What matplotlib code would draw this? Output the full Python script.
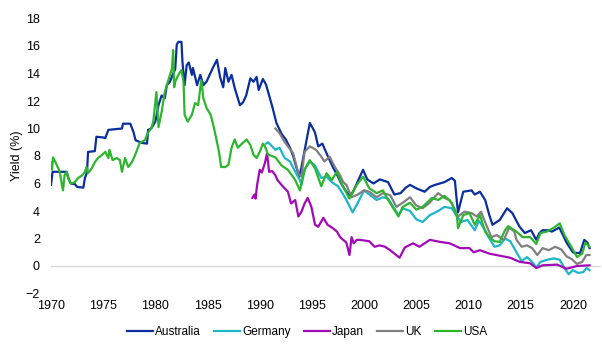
import matplotlib
matplotlib.use("Agg")
import matplotlib.pyplot as plt

# 10-year government bond yields
aus_x = [1970.0, 1970.15, 1971.5, 1971.7, 1971.9, 1972.3, 1972.5, 1973.1, 1973.25, 1973.45,
         1973.55, 1974.2, 1974.35, 1975.0, 1975.2, 1975.5, 1976.8, 1976.9, 1977.6, 1977.9,
         1978.1, 1978.7, 1979.2, 1979.3, 1979.6, 1980.0, 1980.3, 1980.6, 1980.9, 1981.1,
         1981.4, 1981.7, 1981.9, 1982.05, 1982.2, 1982.5, 1982.6, 1982.8, 1983.0, 1983.2,
         1983.5, 1983.6, 1984.0, 1984.3, 1984.6, 1984.9, 1985.2, 1985.5, 1985.9, 1986.2,
         1986.5, 1986.7, 1987.0, 1987.3, 1987.6, 1988.1, 1988.4, 1988.7, 1989.1, 1989.4,
         1989.7, 1989.9, 1990.3, 1990.6, 1991.2, 1991.6, 1992.1, 1992.5, 1992.9, 1993.2,
         1993.5, 1993.8, 1994.0, 1994.4, 1994.8, 1995.1, 1995.3, 1995.6, 1996.0, 1996.4,
         1996.7, 1997.0, 1997.5, 1997.8, 1998.3, 1998.7, 1999.0, 1999.3, 1999.9, 2000.3,
         2000.9, 2001.5, 2002.3, 2002.9, 2003.5, 2004.0, 2004.4, 2005.0, 2005.8, 2006.3,
         2006.8, 2007.7, 2008.4, 2008.7, 2008.9, 2009.0, 2009.5, 2010.3, 2010.6, 2011.1,
         2011.6, 2012.0, 2012.3, 2013.0, 2013.7, 2014.2, 2014.9, 2015.4, 2016.0, 2016.5,
         2016.8, 2017.1, 2017.6, 2018.0, 2018.7, 2019.4, 2020.0, 2020.2, 2020.7, 2021.1,
         2021.4, 2021.6]
aus_y = [5.9, 6.85, 6.85, 6.3, 6.0, 5.95, 5.75, 5.7, 6.4, 6.8,
         8.3, 8.35, 9.4, 9.35, 9.3, 9.9, 10.0, 10.35, 10.35, 9.75,
         9.15, 8.95, 8.9, 9.9, 10.0, 10.5, 11.7, 12.4, 12.2, 13.15,
         13.4, 14.0, 14.3, 16.1, 16.3, 16.3, 14.8, 13.15, 14.6, 14.8,
         13.9, 14.4, 13.15, 13.9, 13.15, 13.4, 13.9, 14.4, 15.0, 13.75,
         13.0, 14.4, 13.4, 13.9, 12.95, 11.7, 11.9, 12.4, 13.65, 13.4,
         13.75, 12.8, 13.6, 13.2, 11.6, 10.4, 9.6, 9.2, 8.6, 8.0,
         7.2, 6.5, 7.2, 8.8, 10.4, 10.0, 9.7, 8.7, 8.9, 8.2,
         7.7, 7.2, 6.5, 6.0, 5.4, 5.1, 5.5, 6.0, 7.0, 6.3,
         6.0, 6.3, 6.1, 5.2, 5.3, 5.7, 5.9, 5.65, 5.4, 5.75,
         5.9, 6.1, 6.4, 6.2, 4.6, 3.9, 5.4, 5.5, 5.2, 5.4,
         4.8, 3.7, 3.0, 3.35, 4.2, 3.85, 2.85, 2.4, 2.6, 1.9,
         2.4, 2.6, 2.6, 2.5, 2.8, 1.7, 1.0, 0.95, 0.95, 1.9,
         1.7, 1.3]

ger_x = [1990.6, 1990.8, 1991.5, 1991.9, 1992.4, 1992.9, 1993.4, 1993.85, 1994.0, 1994.3,
         1994.8, 1995.3, 1995.9, 1996.4, 1996.9, 1997.5, 1998.0, 1998.3, 1998.9, 1999.4,
         2000.0, 2000.5, 2001.2, 2001.8, 2002.3, 2002.8, 2003.3, 2003.7, 2004.4, 2005.0,
         2005.6, 2006.3, 2007.1, 2007.7, 2008.4, 2008.9, 2009.3, 2009.9, 2010.6, 2011.0,
         2011.6, 2012.0, 2012.5, 2013.0, 2013.5, 2014.0, 2014.6, 2015.1, 2015.6, 2016.1,
         2016.5, 2016.9, 2017.5, 2018.2, 2018.75, 2019.2, 2019.6, 2020.0, 2020.5, 2021.0,
         2021.3, 2021.6]
ger_y = [8.9, 9.0, 8.45, 8.6, 7.85, 7.6, 6.85, 6.25, 5.9, 7.0,
         7.6, 7.3, 6.4, 6.5, 6.1, 5.8, 5.2, 4.8, 3.9, 4.6,
         5.5, 5.2, 4.8, 5.0, 4.9, 4.3, 3.7, 4.2, 4.0, 3.4,
         3.2, 3.7, 4.0, 4.3, 4.2, 3.6, 3.2, 3.35, 2.6, 3.3,
         2.6, 2.0, 1.4, 1.5, 2.0, 1.8, 1.0, 0.35, 0.65, 0.3,
         -0.1, 0.3, 0.45, 0.55, 0.45, -0.15, -0.6, -0.3, -0.5, -0.45,
         -0.15, -0.3]

jpn_x = [1989.3, 1989.5, 1989.6, 1989.75, 1990.0, 1990.2, 1990.5, 1990.7, 1990.9, 1991.2,
         1991.5, 1991.7, 1992.2, 1992.7, 1993.0, 1993.4, 1993.7, 1994.0, 1994.3, 1994.6,
         1994.95, 1995.3, 1995.6, 1996.1, 1996.5, 1997.0, 1997.4, 1997.7, 1998.0, 1998.3,
         1998.6, 1998.8, 1999.0, 1999.3, 1999.6, 2000.5, 2001.0, 2001.5, 2002.0, 2002.5,
         2003.4, 2003.9, 2004.7, 2005.3, 2006.3, 2007.3, 2008.2, 2009.2, 2010.1, 2010.5,
         2011.1, 2012.0, 2013.0, 2014.0, 2014.9, 2015.9, 2016.5, 2017.1, 2018.5, 2019.4,
         2020.4, 2021.6]
jpn_y = [4.95, 5.2, 4.9, 5.9, 7.0, 6.8, 7.5, 8.2, 6.85, 6.9,
         6.6, 6.25, 5.8, 5.4, 4.55, 4.8, 3.6, 3.95, 4.55, 4.95,
         4.3, 3.0, 2.85, 3.5, 3.0, 2.75, 2.5, 2.1, 1.9, 1.7,
         0.8, 2.1, 1.65, 1.9, 1.9, 1.8, 1.4, 1.5, 1.4, 1.15,
         0.6, 1.35, 1.65, 1.4, 1.9, 1.75, 1.65, 1.3, 1.3, 1.0,
         1.15, 0.9, 0.75, 0.6, 0.3, 0.2, -0.15, 0.05, 0.1, -0.2,
         0.0, 0.05]

uk_x = [1991.5, 1991.9, 1992.4, 1992.7, 1993.2, 1993.7, 1994.0, 1994.3, 1994.8, 1995.4,
        1995.9, 1996.2, 1996.7, 1997.2, 1997.7, 1998.0, 1998.3, 1998.8, 1999.4, 2000.0,
        2000.5, 2001.2, 2001.8, 2002.5, 2003.1, 2003.7, 2004.4, 2005.0, 2005.6, 2006.3,
        2006.5, 2007.1, 2007.7, 2008.2, 2008.7, 2009.0, 2009.6, 2010.3, 2010.8, 2011.2,
        2011.7, 2012.2, 2012.7, 2013.4, 2013.9, 2014.4, 2014.6, 2015.1, 2015.6, 2016.1,
        2016.6, 2017.1, 2017.7, 2018.3, 2018.9, 2019.4, 2019.9, 2020.4, 2020.9, 2021.3,
        2021.6]
uk_y = [10.0, 9.65, 9.0, 8.7, 8.2, 6.75, 6.5, 8.3, 8.7, 8.45,
        7.95, 7.6, 7.95, 7.2, 6.6, 6.1, 5.9, 5.0, 5.2, 5.5,
        5.4, 5.0, 5.3, 5.15, 4.3, 4.6, 5.0, 4.4, 4.2, 4.6,
        4.8, 5.3, 4.95, 4.8, 4.1, 3.6, 3.95, 3.85, 3.6, 3.95,
        3.0, 2.1, 2.25, 1.9, 2.8, 2.5, 1.9, 1.4, 1.5, 1.3,
        0.8, 1.3, 1.15, 1.4, 1.2, 0.7, 0.5, 0.15, 0.3, 0.8,
        0.8]

usa_x = [1970.0, 1970.1, 1970.2, 1970.55, 1970.85, 1971.0, 1971.15, 1971.3, 1971.5, 1971.65,
         1971.9, 1972.3, 1972.6, 1973.0, 1973.25, 1973.4, 1973.55, 1973.9, 1974.2, 1974.5,
         1974.85, 1975.2, 1975.5, 1975.6, 1975.9, 1976.3, 1976.6, 1976.8, 1977.1, 1977.4,
         1977.75, 1978.05, 1978.5, 1979.0, 1979.3, 1979.6, 1979.8, 1980.1, 1980.3, 1980.6,
         1980.9, 1981.2, 1981.6, 1981.7, 1981.8, 1981.9, 1982.2, 1982.5, 1982.7, 1982.8,
         1983.1, 1983.5, 1983.8, 1984.1, 1984.4, 1984.6, 1984.9, 1985.3, 1985.6, 1985.9,
         1986.1, 1986.3, 1986.7, 1987.0, 1987.3, 1987.6, 1987.9, 1988.3, 1988.75, 1989.1,
         1989.4, 1989.7, 1990.0, 1990.3, 1990.5, 1990.8, 1991.5, 1992.1, 1992.7, 1993.4,
         1993.85, 1994.3, 1994.8, 1995.3, 1995.9, 1996.4, 1996.9, 1997.4, 1997.9, 1998.6,
         1999.3, 1999.9, 2000.5, 2001.2, 2001.8, 2002.3, 2002.8, 2003.3, 2003.7, 2004.4,
         2005.0, 2005.6, 2006.3, 2006.5, 2007.1, 2007.7, 2008.4, 2008.9, 2009.0, 2009.5,
         2010.1, 2010.6, 2011.1, 2011.6, 2012.0, 2012.5, 2013.0, 2013.5, 2013.8, 2014.6,
         2015.2, 2015.9, 2016.5, 2016.9, 2017.5, 2018.1, 2018.75, 2019.2, 2019.7, 2020.4,
         2020.9, 2021.2, 2021.6]
usa_y = [7.55, 7.0, 7.9, 7.35, 6.85, 6.1, 5.5, 6.6, 6.85, 6.4,
         6.0, 6.1, 6.4, 6.6, 6.85, 7.2, 6.75, 7.1, 7.55, 7.85,
         8.05, 8.3, 7.85, 8.45, 7.7, 7.85, 7.7, 6.85, 7.85, 7.2,
         7.55, 8.05, 8.95, 9.15, 9.7, 10.0, 10.5, 12.65, 10.1, 11.2,
         12.65, 13.4, 14.4, 15.7, 13.0, 13.4, 13.9, 14.25, 13.4, 11.0,
         10.5, 11.0, 11.85, 11.7, 13.5, 12.2, 11.5, 11.0, 10.1, 9.0,
         8.3, 7.2, 7.2, 7.35, 8.6, 9.2, 8.6, 8.9, 9.2, 8.8,
         8.1, 7.85, 8.3, 8.9, 8.7, 8.1, 7.9, 7.3, 7.0, 6.25,
         5.5, 7.0, 7.7, 7.1, 5.8, 6.75, 6.25, 6.85, 5.9, 4.9,
         5.9, 6.5, 5.65, 5.3, 5.5, 4.8, 4.2, 3.6, 4.3, 4.6,
         4.1, 4.3, 4.8, 4.95, 4.8, 5.1, 4.6, 3.6, 2.75, 3.7,
         3.85, 3.0, 3.7, 2.5, 2.1, 1.8, 1.75, 2.6, 2.9, 2.5,
         2.1, 2.1, 1.6, 2.4, 2.5, 2.75, 3.1, 2.25, 1.6, 0.65,
         0.9, 1.7, 1.4]

series = [
    ("Australia", aus_x, aus_y, "#0A2E9E"),
    ("Germany", ger_x, ger_y, "#1DB5C9"),
    ("Japan", jpn_x, jpn_y, "#A10AB5"),
    ("UK", uk_x, uk_y, "#808080"),
    ("USA", usa_x, usa_y, "#2DB52D"),
]

plt.rcParams['font.family'] = ['Liberation Sans', 'DejaVu Sans']

fig = plt.figure(figsize=(6.02, 3.48), dpi=100)
ax = fig.add_axes([51 / 602, 54.5 / 348, 550 / 602, 275 / 348])

ax.axhline(0, color="#D9D9D9", lw=1.0, zorder=1)
for name, xs, ys, col in series:
    ax.plot(xs, ys, color=col, lw=1.6, label=name, zorder=2)

ax.set_xlim(1970, 2022.7)
ax.set_ylim(-2, 18)
ax.set_xticks(range(1970, 2021, 5))
ax.set_yticks(range(-2, 19, 2))
ax.tick_params(axis="both", length=0, labelsize=9, colors="#000000")
ax.tick_params(axis="x", pad=4.5)
ax.tick_params(axis="y", pad=8)
for s in ax.spines.values():
    s.set_visible(False)

fig.text(17 / 602, 1 - 156 / 348, "Yield (%)", rotation=90, ha="center", va="center", fontsize=9)

fig.legend(loc="center", bbox_to_anchor=(307 / 602, 1 - 332 / 348), ncol=5, frameon=False,
           fontsize=8.5, handlelength=2.2, handletextpad=0.2, columnspacing=1.1)

fig.savefig("out.png", dpi=100)
